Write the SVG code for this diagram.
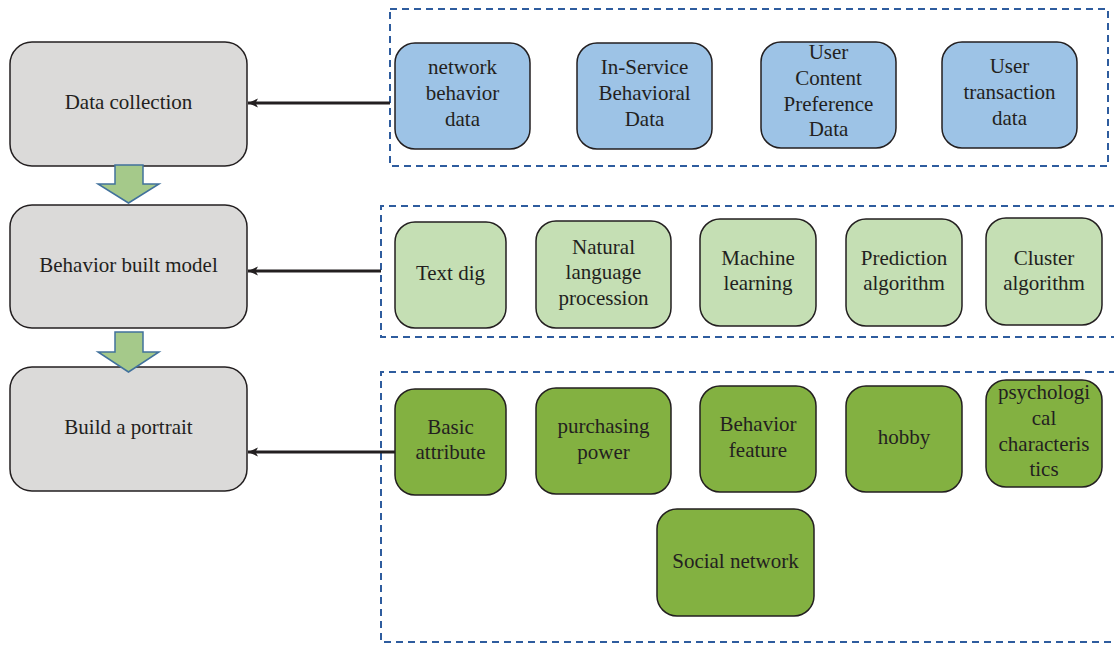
<svg xmlns="http://www.w3.org/2000/svg" width="1114" height="646" viewBox="0 0 1114 646">
<defs>
<marker id="ah" markerWidth="11" markerHeight="10" refX="10" refY="5" orient="auto" markerUnits="userSpaceOnUse">
<path d="M0,0.5 L10,5 L0,9.5 L2.5,5 Z" fill="#231f20"/>
</marker>
</defs>
<style>
text{font-family:"Liberation Serif","Times New Roman",serif;font-size:21px;fill:#231f20;text-anchor:middle}
.step{fill:#dbdad9;stroke:#231f20;stroke-width:1.5}
.blue{fill:#9dc3e6;stroke:#231f20;stroke-width:1.5}
.lg{fill:#c5dfb4;stroke:#231f20;stroke-width:1.5}
.dg{fill:#83b141;stroke:#231f20;stroke-width:1.5}
.grp{fill:none;stroke:#2e5c9e;stroke-width:2;stroke-dasharray:7,5}
.blk{fill:#a5c98a;stroke:#41719c;stroke-width:1.5}
.conn{stroke:#231f20;stroke-width:3;fill:none}
</style>
<g id="groups">
<rect class="grp" x="390" y="9" width="718" height="157"/>
<path class="grp" d="M1116,206 H381 V337 H1116"/>
<path class="grp" d="M1116,372 H381 V642 H1116"/>
</g>
<g id="step-data-collection">
<rect class="step" x="10" y="42" width="237" height="124" rx="22"/>
<text x="128.5" y="109">Data collection</text>
</g>
<g id="step-behavior-model">
<rect class="step" x="10" y="205" width="237" height="123" rx="22"/>
<text x="128.5" y="272">Behavior built model</text>
</g>
<g id="step-portrait">
<rect class="step" x="10" y="367" width="237" height="124" rx="22"/>
<text x="128.5" y="434">Build a portrait</text>
</g>
<g id="connectors">
<path class="blk" d="M115,165 H143 V184 H159 L128.5,203 L98,184 H115 Z"/>
<path class="blk" d="M115,332 H143 V352 H159 L128.5,372 L98,352 H115 Z"/>
<line class="conn" x1="390" y1="103" x2="248" y2="103" marker-end="url(#ah)"/>
<line class="conn" x1="381" y1="271" x2="248" y2="271" marker-end="url(#ah)"/>
<line class="conn" x1="395" y1="452" x2="248" y2="452" marker-end="url(#ah)"/>
</g>
<g id="n-network-behavior">
<rect class="blue" x="395" y="43" width="135" height="106" rx="20"/>
<text x="462.5" y="74">network</text><text x="462.5" y="100">behavior</text><text x="462.5" y="126">data</text>
</g>
<g id="n-in-service">
<rect class="blue" x="577" y="43" width="135" height="106" rx="20"/>
<text x="644.5" y="74">In-Service</text><text x="644.5" y="100">Behavioral</text><text x="644.5" y="126">Data</text>
</g>
<g id="n-content-pref">
<rect class="blue" x="761" y="42" width="135" height="106" rx="20"/>
<text x="828.5" y="59">User</text><text x="828.5" y="85">Content</text><text x="828.5" y="111">Preference</text><text x="828.5" y="136">Data</text>
</g>
<g id="n-transaction">
<rect class="blue" x="942" y="42" width="135" height="106" rx="20"/>
<text x="1009.5" y="73">User</text><text x="1009.5" y="99">transaction</text><text x="1009.5" y="125">data</text>
</g>
<g id="n-text-dig">
<rect class="lg" x="395" y="222" width="111" height="106" rx="20"/>
<text x="450.5" y="280">Text dig</text>
</g>
<g id="n-nlp">
<rect class="lg" x="536" y="221" width="135" height="107" rx="20"/>
<text x="603.5" y="254">Natural</text><text x="603.5" y="279">language</text><text x="603.5" y="305">procession</text>
</g>
<g id="n-ml">
<rect class="lg" x="700" y="219" width="116" height="107" rx="20"/>
<text x="758" y="265">Machine</text><text x="758" y="290">learning</text>
</g>
<g id="n-prediction">
<rect class="lg" x="846" y="219" width="116" height="107" rx="20"/>
<text x="904" y="265">Prediction</text><text x="904" y="290">algorithm</text>
</g>
<g id="n-cluster">
<rect class="lg" x="986" y="218" width="116" height="107" rx="20"/>
<text x="1044" y="265">Cluster</text><text x="1044" y="290">algorithm</text>
</g>
<g id="n-basic">
<rect class="dg" x="395" y="389" width="111" height="106" rx="20"/>
<text x="450.5" y="434">Basic</text><text x="450.5" y="459">attribute</text>
</g>
<g id="n-purchasing">
<rect class="dg" x="536" y="388" width="135" height="106" rx="20"/>
<text x="603.5" y="433">purchasing</text><text x="603.5" y="459">power</text>
</g>
<g id="n-behavior-feature">
<rect class="dg" x="700" y="386" width="116" height="106" rx="20"/>
<text x="758" y="431">Behavior</text><text x="758" y="457">feature</text>
</g>
<g id="n-hobby">
<rect class="dg" x="846" y="386" width="116" height="106" rx="20"/>
<text x="904" y="444">hobby</text>
</g>
<g id="n-psych">
<rect class="dg" x="986" y="380" width="116" height="107" rx="20"/>
<text x="1044" y="399">psychologi</text><text x="1044" y="425">cal</text><text x="1044" y="451">characteris</text><text x="1044" y="476">tics</text>
</g>
<g id="n-social">
<rect class="dg" x="657" y="509" width="157" height="107" rx="20"/>
<text x="735.5" y="568">Social network</text>
</g>
</svg>
